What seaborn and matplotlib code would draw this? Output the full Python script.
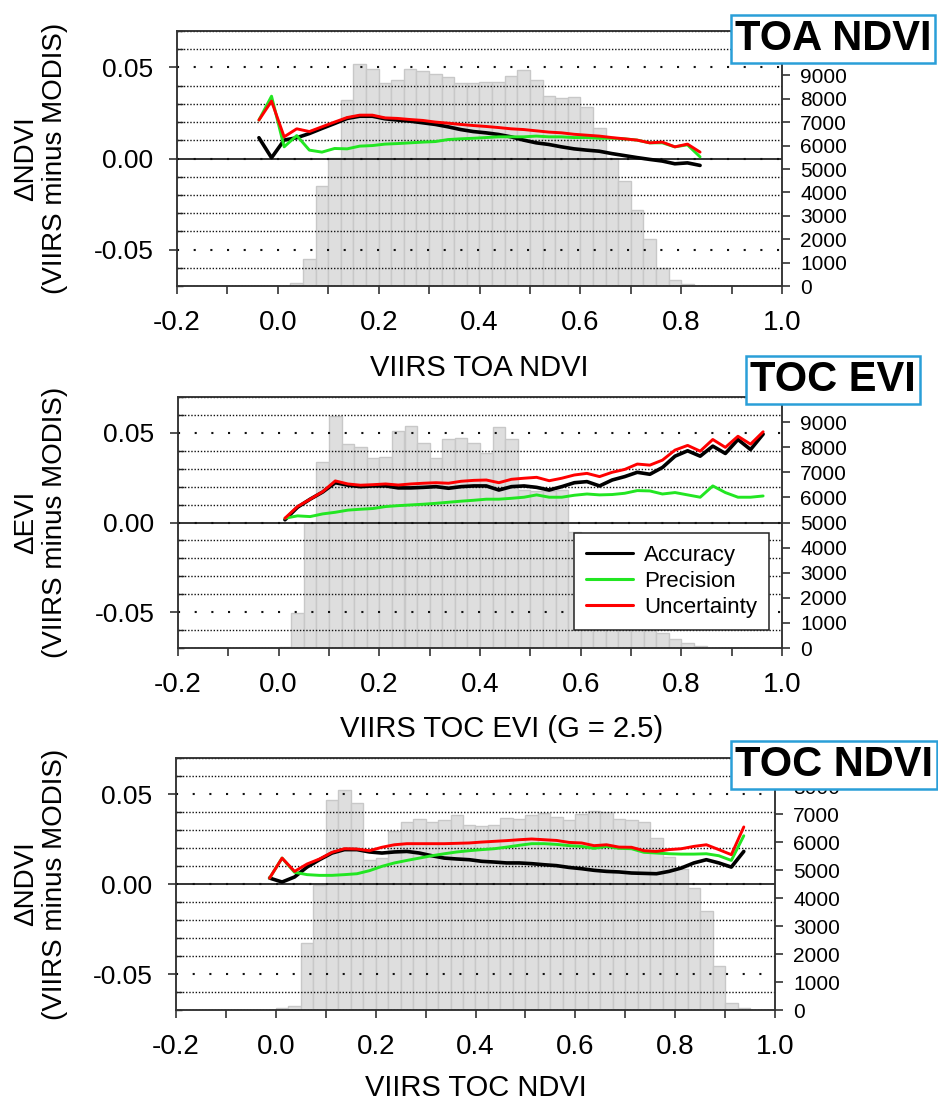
import numpy as np
import pandas as pd
import matplotlib
matplotlib.use("Agg")
import matplotlib.pyplot as plt
import seaborn as sns
from matplotlib.ticker import MultipleLocator, FixedLocator, FormatStrFormatter

# ---------------------------------------------------------------- data
metrics = ["Accuracy", "Precision", "Uncertainty"]

# Panel 1 : TOA NDVI
toa_hist_left = [0.025, 0.05, 0.075, 0.1, 0.125, 0.15, 0.175, 0.2, 0.225, 0.25,
                 0.275, 0.3, 0.325, 0.35, 0.375, 0.4, 0.425, 0.45, 0.475, 0.5,
                 0.525, 0.55, 0.575, 0.6, 0.625, 0.65, 0.675, 0.7, 0.725, 0.75,
                 0.775, 0.8]
toa_hist_count = [115, 1140, 4260, 5470, 7940, 9510, 9260, 8690, 8800, 9290,
                  9190, 9070, 8940, 8690, 8690, 8710, 8710, 8970, 9230, 8800,
                  8140, 8030, 8070, 7660, 6750, 5470, 4500, 3240, 2010, 750,
                  260, 100]
toa_x = [-0.0375, -0.0125, 0.0125, 0.0375, 0.0625, 0.0875, 0.1125, 0.1375, 0.1625,
         0.1875, 0.2125, 0.2375, 0.2625, 0.2875, 0.3125, 0.3375, 0.3625, 0.3875,
         0.4125, 0.4375, 0.4625, 0.4875, 0.5125, 0.5375, 0.5625, 0.5875, 0.6125,
         0.6375, 0.6625, 0.6875, 0.7125, 0.7375, 0.7625, 0.7875, 0.8125, 0.8375]
toa_acc = [0.0114, 0.0004, 0.0101, 0.0114, 0.0137, 0.0165, 0.0192, 0.0220, 0.0232,
           0.0232, 0.0218, 0.0211, 0.0205, 0.0196, 0.0187, 0.0174, 0.0159, 0.0148,
           0.0141, 0.0132, 0.0119, 0.0101, 0.0086, 0.0077, 0.0064, 0.0053, 0.0046,
           0.0040, 0.0027, 0.0016, 0.0005, -0.0005, -0.0014, -0.0029, -0.0024, -0.0038]
toa_prec = [0.0211, 0.0342, 0.0064, 0.0126, 0.0046, 0.0035, 0.0055, 0.0053, 0.0068,
            0.0071, 0.0079, 0.0082, 0.0086, 0.0090, 0.0093, 0.0104, 0.0108, 0.0111,
            0.0115, 0.0119, 0.0119, 0.0119, 0.0123, 0.0119, 0.0119, 0.0115, 0.0115,
            0.0111, 0.0111, 0.0108, 0.0101, 0.0086, 0.0086, 0.0064, 0.0075, 0.0009]
toa_unc = [0.0211, 0.0315, 0.0119, 0.0163, 0.0148, 0.0174, 0.0200, 0.0225, 0.0238,
           0.0238, 0.0223, 0.0220, 0.0214, 0.0209, 0.0200, 0.0194, 0.0187, 0.0181,
           0.0176, 0.0170, 0.0163, 0.0159, 0.0152, 0.0145, 0.0141, 0.0133, 0.0128,
           0.0123, 0.0115, 0.0108, 0.0101, 0.0086, 0.0090, 0.0064, 0.0079, 0.0035]

# Panel 2 : TOC EVI
evi_hist_left = [0.0, 0.025, 0.05, 0.075, 0.1, 0.125, 0.15, 0.175, 0.2, 0.225,
                 0.25, 0.275, 0.3, 0.325, 0.35, 0.375, 0.4, 0.425, 0.45, 0.475,
                 0.5, 0.525, 0.55, 0.575, 0.6, 0.625, 0.65, 0.675, 0.7, 0.725,
                 0.75, 0.775, 0.8, 0.825]
evi_hist_count = [50, 1410, 4970, 7400, 9240, 8110, 8010, 7550, 7590, 8650,
                  8850, 8170, 7550, 8310, 8370, 8150, 7770, 8790, 8310, 6300,
                  6250, 6250, 6280, 4610, 3700, 3000, 2400, 1800, 1300, 900,
                  600, 370, 210, 60]
evi_x = [0.0125, 0.0375, 0.0625, 0.0875, 0.1125, 0.1375, 0.1625, 0.1875, 0.2125,
         0.2375, 0.2625, 0.2875, 0.3125, 0.3375, 0.3625, 0.3875, 0.4125, 0.4375,
         0.4625, 0.4875, 0.5125, 0.5375, 0.5625, 0.5875, 0.6125, 0.6375, 0.6625,
         0.6875, 0.7125, 0.7375, 0.7625, 0.7875, 0.8125, 0.8375, 0.8625, 0.8875,
         0.9125, 0.9375, 0.9625]
evi_acc = [0.0015, 0.0085, 0.0130, 0.0170, 0.0222, 0.0208, 0.0200, 0.0204, 0.0204,
           0.0193, 0.0193, 0.0196, 0.0200, 0.0191, 0.0200, 0.0204, 0.0204, 0.0181,
           0.0200, 0.0204, 0.0196, 0.0181, 0.0200, 0.0222, 0.0228, 0.0204, 0.0237,
           0.0256, 0.0280, 0.0269, 0.0307, 0.0370, 0.0400, 0.0370, 0.0426, 0.0385,
           0.0463, 0.0407, 0.0493]
evi_prec = [0.0024, 0.0037, 0.0033, 0.0048, 0.0057, 0.0069, 0.0074, 0.0078, 0.0089,
            0.0094, 0.0098, 0.0102, 0.0107, 0.0113, 0.0119, 0.0124, 0.0130, 0.0130,
            0.0135, 0.0141, 0.0154, 0.0141, 0.0141, 0.0152, 0.0159, 0.0154, 0.0156,
            0.0163, 0.0178, 0.0176, 0.0159, 0.0167, 0.0154, 0.0141, 0.0204, 0.0167,
            0.0141, 0.0141, 0.0148]
evi_unc = [0.0024, 0.0089, 0.0130, 0.0172, 0.0232, 0.0215, 0.0208, 0.0211, 0.0215,
           0.0209, 0.0215, 0.0219, 0.0222, 0.0219, 0.0230, 0.0235, 0.0237, 0.0222,
           0.0241, 0.0247, 0.0252, 0.0233, 0.0247, 0.0265, 0.0274, 0.0256, 0.0280,
           0.0296, 0.0326, 0.0320, 0.0348, 0.0404, 0.0430, 0.0398, 0.0463, 0.0419,
           0.0481, 0.0437, 0.0506]

# Panel 3 : TOC NDVI
ndvi_hist_left = [0.0, 0.025, 0.05, 0.075, 0.1, 0.125, 0.15, 0.175, 0.2, 0.225,
                  0.25, 0.275, 0.3, 0.325, 0.35, 0.375, 0.4, 0.425, 0.45, 0.475,
                  0.5, 0.525, 0.55, 0.575, 0.6, 0.625, 0.65, 0.675, 0.7, 0.725,
                  0.75, 0.775, 0.8, 0.825, 0.85, 0.875, 0.9, 0.925]
ndvi_hist_count = [60, 155, 2390, 4470, 7510, 7840, 7390, 5370, 5430, 6380,
                   6730, 6820, 6710, 6770, 6950, 6620, 6560, 6620, 6860, 6820,
                   6950, 7030, 6880, 6770, 7010, 7120, 7060, 6820, 6790, 6700,
                   6160, 5480, 5030, 4360, 3520, 1560, 250, 70]
ndvi_x = [-0.0125, 0.0125, 0.0375, 0.0625, 0.0875, 0.1125, 0.1375, 0.1625, 0.1875,
          0.2125, 0.2375, 0.2625, 0.2875, 0.3125, 0.3375, 0.3625, 0.3875, 0.4125,
          0.4375, 0.4625, 0.4875, 0.5125, 0.5375, 0.5625, 0.5875, 0.6125, 0.6375,
          0.6625, 0.6875, 0.7125, 0.7375, 0.7625, 0.7875, 0.8125, 0.8375, 0.8625,
          0.8875, 0.9125, 0.9375]
ndvi_acc = [0.0033, 0.0011, 0.0039, 0.0094, 0.0135, 0.0172, 0.0191, 0.0191, 0.0178,
            0.0172, 0.0178, 0.0181, 0.0172, 0.0157, 0.0144, 0.0139, 0.0135, 0.0126,
            0.0122, 0.0117, 0.0117, 0.0113, 0.0107, 0.0102, 0.0092, 0.0085, 0.0076,
            0.0070, 0.0067, 0.0061, 0.0059, 0.0057, 0.0070, 0.0089, 0.0117, 0.0135,
            0.0117, 0.0094, 0.0181]
ndvi_prec = [0.0033, 0.0144, 0.0065, 0.0052, 0.0048, 0.0048, 0.0052, 0.0057, 0.0074,
             0.0098, 0.0117, 0.0131, 0.0144, 0.0157, 0.0168, 0.0178, 0.0185, 0.0191,
             0.0196, 0.0205, 0.0215, 0.0224, 0.0224, 0.0220, 0.0213, 0.0209, 0.0198,
             0.0209, 0.0198, 0.0196, 0.0176, 0.0172, 0.0168, 0.0166, 0.0166, 0.0168,
             0.0157, 0.0131, 0.0268]
ndvi_unc = [0.0033, 0.0144, 0.0070, 0.0111, 0.0139, 0.0176, 0.0196, 0.0194, 0.0185,
            0.0204, 0.0218, 0.0224, 0.0224, 0.0224, 0.0224, 0.0226, 0.0228, 0.0233,
            0.0237, 0.0241, 0.0246, 0.0250, 0.0246, 0.0242, 0.0231, 0.0228, 0.0213,
            0.0218, 0.0205, 0.0204, 0.0185, 0.0181, 0.0191, 0.0196, 0.0209, 0.0218,
            0.0191, 0.0163, 0.0317]

right_ticks_9k = [0, 1000, 2000, 3000, 4000, 5000, 6000, 7000, 8000, 9000]
right_ticks_8k = [0, 1000, 2000, 3000, 4000, 5000, 6000, 7000, 8000]
bin_width = 0.025

# ---------------------------------------------------------------- style
sns.set_style("ticks")
plt.rcParams["font.family"] = ["Liberation Sans", "DejaVu Sans"]
plt.rcParams["axes.unicode_minus"] = False
for key in ("text.color", "axes.labelcolor", "xtick.color", "ytick.color",
            "axes.edgecolor"):
    plt.rcParams[key] = "black"

palette = {"Accuracy": "#000000", "Precision": "#22e622", "Uncertainty": "#ff0000"}
sizes = {"Accuracy": 2.6, "Precision": 2.1, "Uncertainty": 2.1}

W, H = 938, 1103
fig = plt.figure(figsize=(W / 100, H / 100), dpi=100)

panels = [
    dict(box=(177, 31, 782, 286), hl=toa_hist_left, hc=toa_hist_count, x=toa_x,
         acc=toa_acc, prec=toa_prec, unc=toa_unc, rmax=10900, rt=right_ticks_9k,
         ylabel="\u0394NDVI\n(VIIRS minus MODIS)", xlabel="VIIRS TOA NDVI",
         xl_off=82, xl_x=0.5, title="TOA NDVI", tpos=(833, 39), legend=False),
    dict(box=(178, 397, 782, 648), hl=evi_hist_left, hc=evi_hist_count, x=evi_x,
         acc=evi_acc, prec=evi_prec, unc=evi_unc, rmax=10000, rt=right_ticks_9k,
         ylabel="\u0394EVI\n(VIIRS minus MODIS)", xlabel="VIIRS TOC EVI (G = 2.5)",
         xl_off=81, xl_x=0.535, title="TOC EVI", tpos=(833, 380), legend=True),
    dict(box=(176, 758, 775, 1010), hl=ndvi_hist_left, hc=ndvi_hist_count, x=ndvi_x,
         acc=ndvi_acc, prec=ndvi_prec, unc=ndvi_unc, rmax=9000, rt=right_ticks_8k,
         ylabel="\u0394NDVI\n(VIIRS minus MODIS)", xlabel="VIIRS TOC NDVI",
         xl_off=78, xl_x=0.5, title="TOC NDVI", tpos=(834, 765), legend=False),
]

for p in panels:
    l, t, r, b = p["box"]
    ax = fig.add_axes([l / W, 1 - b / H, (r - l) / W, (b - t) / H])
    ax2 = ax.twinx()
    ax.set_zorder(2)
    ax2.set_zorder(1)
    ax.patch.set_visible(False)

    # histogram on the right axis
    centers = [v + bin_width / 2 for v in p["hl"]]
    edges = list(p["hl"]) + [p["hl"][-1] + bin_width]
    sns.histplot(x=centers, weights=p["hc"], bins=edges, ax=ax2,
                 color="#dedede", edgecolor="#c8c8c8", linewidth=1.0, alpha=1.0)
    ax2.set_ylim(0, p["rmax"])
    ax2.yaxis.set_major_locator(FixedLocator(p["rt"]))
    ax2.yaxis.set_major_formatter(FormatStrFormatter("%d"))
    ax2.set_ylabel("")
    ax2.tick_params(axis="y", which="major", direction="out", length=6, width=1.1,
                    labelsize=15, pad=7, color="#222222")

    # lines
    df = pd.DataFrame({
        "x": list(p["x"]) * 3,
        "value": list(p["acc"]) + list(p["prec"]) + list(p["unc"]),
        "metric": ["Accuracy"] * len(p["x"]) + ["Precision"] * len(p["x"])
                  + ["Uncertainty"] * len(p["x"]),
    })
    sns.lineplot(data=df, x="x", y="value", hue="metric", size="metric",
                 hue_order=metrics, size_order=metrics, palette=palette,
                 sizes=sizes, estimator=None, sort=False, ax=ax,
                 legend=p["legend"], zorder=3)

    ax.set_xlim(-0.2, 1.0)
    ax.set_ylim(-0.07, 0.07)
    ax2.set_xlim(-0.2, 1.0)

    ax.xaxis.set_major_locator(MultipleLocator(0.2))
    ax.xaxis.set_minor_locator(MultipleLocator(0.1))
    ax.xaxis.set_major_formatter(FormatStrFormatter("%.1f"))
    ax.yaxis.set_major_locator(FixedLocator([-0.05, 0.0, 0.05]))
    ax.yaxis.set_minor_locator(MultipleLocator(0.01))
    ax.yaxis.set_major_formatter(FormatStrFormatter("%.2f"))

    ax.tick_params(axis="x", which="both", direction="out", length=6, width=1.1,
                   labelsize=20, pad=11, color="#222222", top=False)
    ax.tick_params(axis="y", which="major", direction="out", length=6, width=1.1,
                   labelsize=19, pad=11, color="#222222", right=False)
    ax.tick_params(axis="y", which="minor", direction="in", length=4, width=1.0,
                   color="#222222", right=False)

    # dotted grid
    ax.set_axisbelow(True)
    ax.yaxis.grid(True, which="minor", linestyle=(0, (1, 1.3)), linewidth=1.0,
                  color="#111111")
    ax.yaxis.grid(True, which="major", linestyle=(0, (1, 7)), linewidth=1.5,
                  color="#111111")
    ax.xaxis.grid(False)
    ax.axhline(0, color="#111111", linewidth=1.2, zorder=1.5)

    for a in (ax, ax2):
        for s in a.spines.values():
            s.set_linewidth(1.1)
            s.set_color("#333333")
            s.set_visible(True)

    ax.set_xlabel(p["xlabel"], fontsize=21, va="center")
    ax.xaxis.set_label_coords(p["xl_x"], -p["xl_off"] / (b - t))
    ax.set_ylabel(p["ylabel"], fontsize=20, va="center", linespacing=1.15)
    ax.yaxis.set_label_coords((41 - l) / (r - l), 0.5)

    if p["legend"]:
        handles, labels = ax.get_legend_handles_labels()
        for h in handles:
            h.set_linewidth(2.2)
        leg = ax.legend(handles, labels, loc="upper left",
                        bbox_to_anchor=(574 / W, 1 - 533 / H),
                        bbox_transform=fig.transFigure, borderaxespad=0,
                        fontsize=16, frameon=True, fancybox=False,
                        framealpha=1, edgecolor="#222222", handlelength=2.1,
                        handletextpad=0.5, labelspacing=0.22, borderpad=0.55)
        leg.get_frame().set_linewidth(1.1)

    fig.text(p["tpos"][0] / W, 1 - p["tpos"][1] / H, p["title"], fontsize=30,
             fontweight="bold", ha="center", va="center", zorder=10,
             bbox=dict(boxstyle="square,pad=0.1", facecolor="white",
                       edgecolor="#2a9fd8", linewidth=1.8))

fig.savefig("out.png", dpi=100)
